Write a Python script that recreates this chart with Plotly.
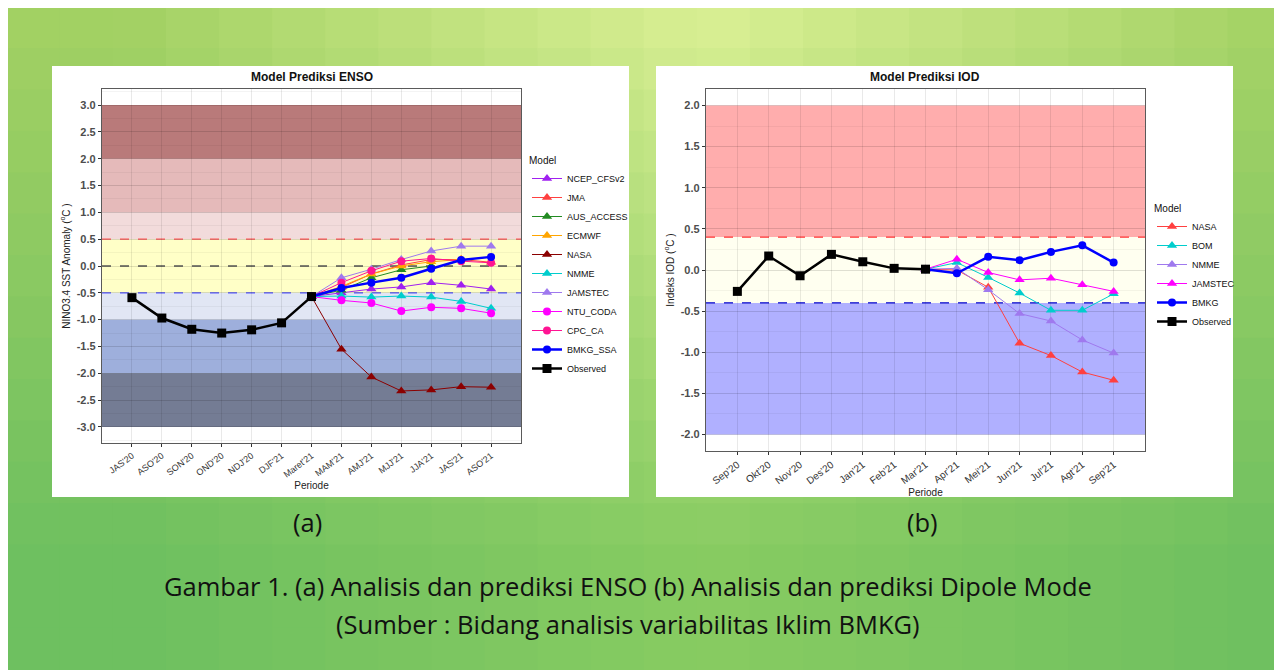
import plotly.graph_objects as go

# ---------------- DATA ----------------
enso_periods = ["JAS'20", "ASO'20", "SON'20", "OND'20", "NDJ'20", "DJF'21", "Maret'21",
                "MAM'21", "AMJ'21", "MJJ'21", "JJA'21", "JAS'21", "ASO'21"]
enso_observed = [-0.59, -0.97, -1.18, -1.25, -1.19, -1.06, -0.57]
# forecasts from Maret'21 (first value = start point) to ASO'21
enso_ncep = [-0.57, -0.50, -0.43, -0.39, -0.31, -0.36, -0.43]
enso_jma = [-0.57, -0.40, -0.15, 0.02, 0.12, 0.12, 0.07]
enso_aus = [-0.57, -0.45, -0.22, -0.07, 0.00, None, None]
enso_ecmwf = [-0.57, -0.38, -0.15, 0.00, 0.08, 0.12, None]
enso_nasa = [-0.57, -1.55, -2.07, -2.33, -2.31, -2.25, -2.26]
enso_nmme = [-0.57, -0.56, -0.58, -0.56, -0.58, -0.66, -0.79]
enso_jamstec = [-0.57, -0.22, -0.06, 0.12, 0.28, 0.37, 0.37]
enso_ntu = [-0.57, -0.64, -0.69, -0.84, -0.77, -0.79, -0.88]
enso_cpc = [-0.57, -0.31, -0.09, 0.09, 0.14, 0.09, 0.06]
enso_bmkg = [-0.57, -0.41, -0.31, -0.22, -0.05, 0.11, 0.17]
enso_yticks = [-3.0, -2.5, -2.0, -1.5, -1.0, -0.5, 0.0, 0.5, 1.0, 1.5, 2.0, 2.5, 3.0]
enso_yticklabels = ["-3.0", "-2.5", "-2.0", "-1.5", "-1.0", "-0.5", "0.0", "0.5", "1.0", "1.5", "2.0", "2.5", "3.0"]

iod_months = ["Sep'20", "Okt'20", "Nov'20", "Des'20", "Jan'21", "Feb'21", "Mar'21",
              "Apr'21", "Mei'21", "Jun'21", "Jul'21", "Agt'21", "Sep'21"]
iod_observed = [-0.26, 0.17, -0.07, 0.19, 0.10, 0.02, 0.01]
iod_nasa = [0.01, 0.00, -0.21, -0.89, -1.04, -1.24, -1.34]
iod_bom = [0.01, 0.09, -0.09, -0.28, -0.49, -0.49, -0.29]
iod_nmme = [0.01, 0.02, -0.24, -0.53, -0.62, -0.85, -1.01]
iod_jamstec = [0.01, 0.13, -0.03, -0.12, -0.10, -0.18, -0.26]
iod_bmkg = [0.01, -0.04, 0.16, 0.12, 0.22, 0.30, 0.09]
iod_yticks = [-2.0, -1.5, -1.0, -0.5, 0.0, 0.5, 1.0, 1.5, 2.0]
iod_yticklabels = ["-2.0", "-1.5", "-1.0", "-0.5", "0.0", "0.5", "1.0", "1.5", "2.0"]

# ---------------- LAYOUT HELPERS ----------------
# page body has an 8px margin: figure starts at (8, 8) of the window
OFF = 8
W, H = 1274, 662
def px(x):
    return (x - OFF) / W
def py(y):
    return 1 - (y - OFF) / H

FONT = "Liberation Sans"
CAPFONT = "Open Sans"
fig = go.Figure()

# ---------------- BACKGROUND ----------------
shapes = []
def lerp(a, b, t):
    return tuple(a[i] + (b[i] - a[i]) * t for i in range(3))
ncol, nrow = 24, 16
for i in range(ncol):
    for j in range(nrow):
        x0 = i / ncol
        x1 = (i + 1) / ncol
        y0 = j / nrow
        y1 = (j + 1) / nrow
        xc = (x0 + x1) / 2
        t = (y0 + y1) / 2
        c = max(0.0, 1 - abs(xc - 0.55) * 2.2)
        top = lerp((165, 210, 100), (220, 241, 150), c)
        bot = lerp((110, 192, 96), (136, 204, 98), c)
        col = lerp(top, bot, min(1.0, t * 1.2))
        shapes.append(dict(type="rect", xref="paper", yref="paper", layer="below",
                           x0=x0 - 0.001, x1=x1 + 0.001, y0=1 - y1 - 0.002, y1=1 - y0 + 0.002,
                           line=dict(width=0),
                           fillcolor="rgb(%d,%d,%d)" % tuple(int(v) for v in col)))
# white panels
for (a, b) in [(52, 629), (656, 1233)]:
    shapes.append(dict(type="rect", xref="paper", yref="paper", layer="below",
                       x0=px(a), x1=px(b), y0=py(497), y1=py(66), line=dict(width=0), fillcolor="white"))

# ---------------- BANDS ----------------
enso_bands = [(2.0, 3.0, "rgba(120,0,0,0.52)"), (1.0, 2.0, "rgba(160,0,0,0.27)"),
              (0.5, 1.0, "rgba(160,0,0,0.14)"), (-0.5, 0.5, "rgba(255,255,0,0.22)"),
              (-1.0, -0.5, "rgba(20,60,170,0.13)"), (-2.0, -1.0, "rgba(20,60,170,0.41)"),
              (-3.0, -2.0, "rgba(15,30,70,0.58)")]
for (a, b, c) in enso_bands:
    shapes.append(dict(type="rect", xref="x", yref="y", layer="below",
                       x0=-1, x1=13, y0=a, y1=b, line=dict(width=0), fillcolor=c))
for (v, c) in [(0.5, "#ff5555"), (0.0, "#555555"), (-0.5, "#5555ff")]:
    shapes.append(dict(type="line", xref="x", yref="y", layer="below",
                       x0=-1, x1=13, y0=v, y1=v, line=dict(color=c, width=1.3, dash="dash")))

iod_bands = [(0.4, 2.0, "rgba(255,0,0,0.32)"), (-0.4, 0.4, "rgba(255,255,0,0.06)"),
             (-2.0, -0.4, "rgba(0,0,255,0.31)")]
for (a, b, c) in iod_bands:
    shapes.append(dict(type="rect", xref="x2", yref="y2", layer="below",
                       x0=-1, x1=13, y0=a, y1=b, line=dict(width=0), fillcolor=c))
for (v, c) in [(0.4, "#ff3333"), (-0.4, "#0000cc")]:
    shapes.append(dict(type="line", xref="x2", yref="y2", layer="below",
                       x0=-1, x1=13, y0=v, y1=v, line=dict(color=c, width=1.1, dash="dash")))

# ---------------- TRACES ----------------
def add(x, y, name, color, symbol, size, width, xa, ya, leg):
    fig.add_trace(go.Scatter(x=x, y=y, name=name, mode="lines+markers",
                             line=dict(color=color, width=width),
                             marker=dict(color=color, symbol=symbol, size=size),
                             xaxis=xa, yaxis=ya, legend=leg, connectgaps=False))

fx = enso_periods[6:]
enso_models = [("NCEP_CFSv2", enso_ncep, "#a020f0", "triangle-up"),
               ("JMA", enso_jma, "#ff4040", "triangle-up"),
               ("AUS_ACCESS", enso_aus, "#228b22", "triangle-up"),
               ("ECMWF", enso_ecmwf, "#ffa500", "triangle-up"),
               ("NASA", enso_nasa, "#8b0000", "triangle-up"),
               ("NMME", enso_nmme, "#00cdcd", "triangle-up"),
               ("JAMSTEC", enso_jamstec, "#9f79ee", "triangle-up"),
               ("NTU_CODA", enso_ntu, "#ff00ff", "circle"),
               ("CPC_CA", enso_cpc, "#ff1493", "circle")]
for (n, v, c, s) in enso_models:
    add(fx, v, n, c, s, 9 if s == "triangle-up" else 8, 1.0, "x", "y", "legend")
add(fx, enso_bmkg, "BMKG_SSA", "#0000ff", "circle", 8, 2.5, "x", "y", "legend")
add(enso_periods[:7], enso_observed, "Observed", "#000000", "square", 9, 2.5, "x", "y", "legend")

ix = iod_months[6:]
iod_models = [("NASA", iod_nasa, "#ff4040", "triangle-up"),
              ("BOM", iod_bom, "#00cdcd", "triangle-up"),
              ("NMME", iod_nmme, "#9f79ee", "triangle-up"),
              ("JAMSTEC", iod_jamstec, "#ff00ff", "triangle-up")]
for (n, v, c, s) in iod_models:
    add(ix, v, n, c, s, 9, 1.0, "x2", "y2", "legend2")
add(ix, iod_bmkg, "BMKG", "#0000ff", "circle", 8, 2.5, "x2", "y2", "legend2")
add(iod_months[:7], iod_observed, "Observed", "#000000", "square", 9, 2.5, "x2", "y2", "legend2")

# ---------------- AXES ----------------
GRID = "rgba(0,0,0,0.085)"
MINOR = "rgba(0,0,0,0.045)"
def xax(domain, anchor, cats, fs):
    return dict(domain=domain, anchor=anchor, type="category", categoryorder="array",
                categoryarray=cats, range=[-1, 13], showgrid=True, gridcolor=GRID, gridwidth=1,
                showline=True, mirror=True, linecolor="#5a5a5a", linewidth=1.4,
                ticks="outside", ticklen=3, tickcolor="#333", tickangle=-37,
                tickfont=dict(family=FONT, size=fs, color="#333"), automargin=False, zeroline=False,
                title=dict(text="Periode", font=dict(family=FONT, size=10, color="#222"), standoff=3))

def yax(domain, anchor, rng, tv, tt, title):
    return dict(domain=domain, anchor=anchor, range=rng, tickmode="array", tickvals=tv, ticktext=tt,
                showgrid=True, gridcolor=GRID, gridwidth=1,
                minor=dict(tickmode="linear", dtick=0.25, tick0=0, showgrid=True, gridcolor=MINOR, gridwidth=0.6, ticks=""),
                showline=True, mirror=True, linecolor="#5a5a5a", linewidth=1.4,
                ticks="outside", ticklen=3, tickcolor="#333",
                tickfont=dict(family=FONT, size=11, color="#4d4d4d", weight="bold"),
                automargin=False, zeroline=False,
                title=dict(text=title, font=dict(family=FONT, size=10, color="#222"), standoff=4))

fig.update_layout(
    xaxis=xax([px(102), px(521)], "y", enso_periods, 9),
    yaxis=yax([py(443), py(89)], "x", [-3.3, 3.3], enso_yticks, enso_yticklabels,
              "NINO3.4 SST Anomaly (<sup>o</sup>C )"),
    xaxis2=xax([px(706), px(1145)], "y2", iod_months, 10),
    yaxis2=yax([py(451), py(89)], "x2", [-2.2, 2.2], iod_yticks, iod_yticklabels,
               "Indeks IOD (<sup>o</sup>C )"),
)

# ---------------- LEGENDS ----------------
def leg(x, y):
    return dict(x=px(x), y=py(y), xanchor="left", yanchor="top", bgcolor="rgba(0,0,0,0)",
                font=dict(family=FONT, size=9, color="#111"),
                title=dict(text="Model", font=dict(family=FONT, size=10, color="#111")),
                tracegroupgap=0, itemwidth=30)

# ---------------- ANNOTATIONS ----------------
ann = []
def text(x, y, s, size, color="#111", bold=False, angle=0, fam=FONT):
    ann.append(dict(x=px(x), y=py(y), xref="paper", yref="paper", text=s, showarrow=False,
                    xanchor="center", yanchor="middle", textangle=angle,
                    font=dict(family=fam, size=size, color=color, weight="bold" if bold else "normal")))

text(312, 77, "Model Prediksi ENSO", 12, "#111", True)
text(925, 77, "Model Prediksi IOD", 12, "#111", True)
text(307, 522, "(a)", 25.5, "#111", fam=CAPFONT)
text(922, 522, "(b)", 25.5, "#111", fam=CAPFONT)
text(628, 586, "Gambar 1. (a) Analisis dan prediksi ENSO (b) Analisis dan prediksi Dipole Mode", 25.5, "#111", fam=CAPFONT)
text(628, 624, "(Sumber : Bidang analisis variabilitas Iklim BMKG)", 25.5, "#111", fam=CAPFONT)

fig.update_layout(
    template="none",
    width=W, height=H, autosize=False,
    margin=dict(l=0, r=0, t=0, b=0),
    paper_bgcolor="white", plot_bgcolor="white",
    shapes=shapes, annotations=ann,
    legend=leg(527, 151), legend2=leg(1152, 199),
    showlegend=True,
    font=dict(family=FONT, color="#111"),
)

fig.write_html("out.html")
